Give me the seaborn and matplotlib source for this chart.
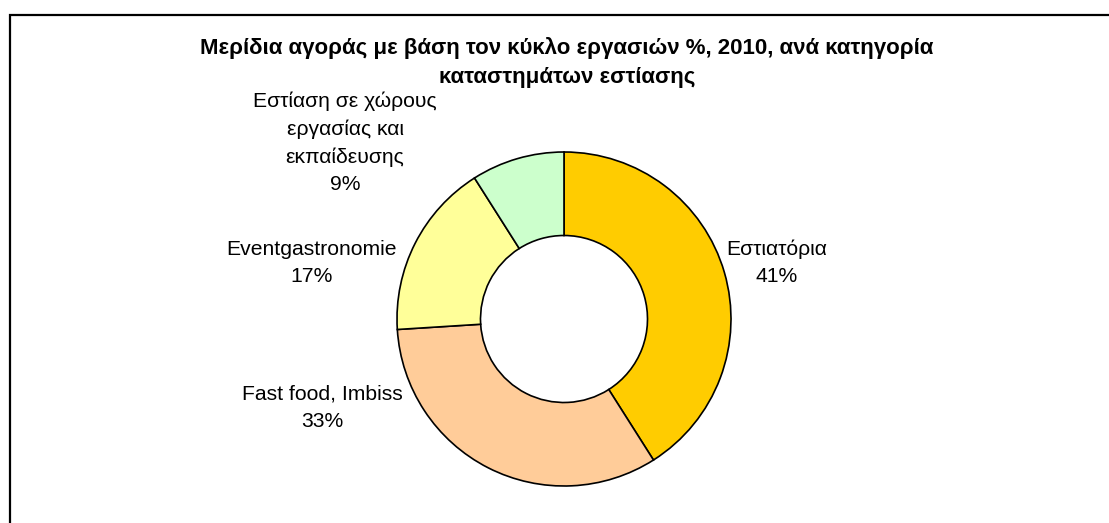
import matplotlib
matplotlib.use("Agg")
import matplotlib.pyplot as plt
import matplotlib.patches as mpatches
import seaborn as sns

# data
categories = ["Εστιατόρια", "Fast food, Imbiss", "Eventgastronomie",
              "Εστίαση σε χώρους\nεργασίας και\nεκπαίδευσης"]
shares = [41, 33, 17, 9]
colors = ["#FFCC00", "#FFCC99", "#FFFF99", "#CCFFCC"]
title = ("Μερίδια αγοράς με βάση τον κύκλο εργασιών %, 2010, ανά κατηγορία\n"
         "καταστημάτων εστίασης")

sns.set_theme(style="white")
plt.rcParams['font.family'] = ['Liberation Sans', 'DejaVu Sans']

W, H = 1109, 523
fig = plt.figure(figsize=(W / 100, H / 100), dpi=100)
fig.patch.set_facecolor("white")

# outer frame (cut off at right and bottom like the original)
frame = mpatches.Rectangle((10 / W, -0.1), 1.2, 1.1 - 15 / H, transform=fig.transFigure,
                           fill=False, edgecolor="black", linewidth=1.6)
fig.patches.append(frame)

# pie centre at (564, 319) px, radius 167 px
R = 167
cx, cy = 564, 319
side = 3 * R
ax = fig.add_axes([(cx - side / 2) / W, (H - cy - side / 2) / H, side / W, side / H])
ax.pie(shares, colors=colors, startangle=90, counterclock=False, radius=1,
       wedgeprops=dict(width=0.5, edgecolor="black", linewidth=1.2))
ax.set_xlim(-1.5, 1.5)
ax.set_ylim(-1.5, 1.5)
ax.set_aspect("equal")
ax.axis("off")

# data labels
label_pos = [(1.275, 0.335), (-1.449, -0.533), (-1.509, 0.335), (-1.311, 1.057)]
for cat, val, (x, y) in zip(categories, shares, label_pos):
    ax.text(x, y, f"{cat}\n{val}%", ha="center", va="center", fontsize=15.2,
            linespacing=1.55, color="black")

fig.text(567 / W, 1 - 62 / H, title, ha="center", va="center", fontsize=16,
         fontweight="bold", linespacing=1.5, color="black")

fig.savefig("out.png", dpi=100)
